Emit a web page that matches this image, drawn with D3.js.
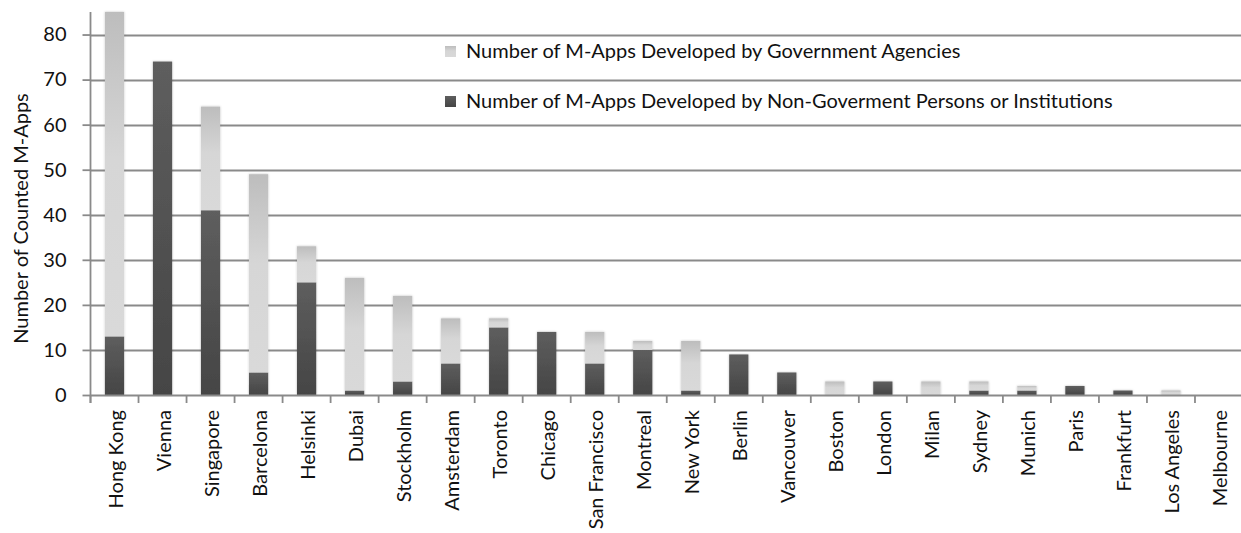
<!DOCTYPE html>
<html><head><meta charset="utf-8">
<script src="https://cdn.jsdelivr.net/npm/d3@7"></script>
<style>body{margin:0;background:#fff;} svg{display:block;} text{font-family:Lato, sans-serif;fill:#111;}</style>
</head><body><svg id="c" width="1241" height="533"></svg>
<script>
const cities = ["Hong Kong","Vienna","Singapore","Barcelona","Helsinki","Dubai","Stockholm","Amsterdam","Toronto","Chicago","San Francisco","Montreal","New York","Berlin","Vancouver","Boston","London","Milan","Sydney","Munich","Paris","Frankfurt","Los Angeles","Melbourne"];
const nonGov = [13,74,41,5,25,1,3,7,15,14,7,10,1,9,5,0,3,0,1,1,2,1,0,0];
const gov    = [72,0,23,44,8,25,19,10,2,0,7,2,11,0,0,3,0,3,2,1,0,0,1,0];
const yTicks = [0,10,20,30,40,50,60,70,80];
const seriesNames = ["Number of M-Apps Developed by Government Agencies","Number of M-Apps Developed by Non-Goverment Persons or Institutions"];

(function(){
const svg = d3.select("#c");
const mLeft = 90.5, mRight = 1243, mTop = 12, mBottom = 395;
const x = d3.scaleBand().domain(cities).range([mLeft, mRight]).paddingInner(0.6).paddingOuter(0.3);
const y = d3.scaleLinear().domain([0,85]).range([mBottom, mTop]);
const FS = "20px";

const defs = svg.append("defs");
const gl = defs.append("linearGradient").attr("id","gLight").attr("x1",0).attr("y1",0).attr("x2",0).attr("y2",1);
gl.append("stop").attr("offset","0%").attr("stop-color","#bdbdbd");
gl.append("stop").attr("offset","45%").attr("stop-color","#d6d6d6");
gl.append("stop").attr("offset","100%").attr("stop-color","#d9d9d9");
const gd = defs.append("linearGradient").attr("id","gDark").attr("x1",0).attr("y1",0).attr("x2",0).attr("y2",1);
gd.append("stop").attr("offset","0%").attr("stop-color","#5e5e5e");
gd.append("stop").attr("offset","100%").attr("stop-color","#454545");
const f = defs.append("filter").attr("id","sh").attr("x","-30%").attr("y","-10%").attr("width","160%").attr("height","120%");
f.append("feDropShadow").attr("dx",0).attr("dy",0).attr("stdDeviation",1.2).attr("flood-color","#000").attr("flood-opacity",0.25);

svg.append("g").selectAll("line").data(yTicks.filter(d=>d>0)).join("line")
  .attr("x1",mLeft).attr("x2",1241).attr("y1",d=>Math.round(y(d))+0.5).attr("y2",d=>Math.round(y(d))+0.5)
  .attr("stroke","#8a8a8a").attr("stroke-width",1.8);

const data = cities.map((c,i)=>({c, n:nonGov[i], g:gov[i]}));
const bars = svg.append("g").attr("filter","url(#sh)");
bars.selectAll("rect.d").data(data.filter(d=>d.n>0)).join("rect")
  .attr("x",d=>x(d.c)).attr("width",x.bandwidth())
  .attr("y",d=>y(d.n)).attr("height",d=>y(0)-y(d.n)).attr("fill","url(#gDark)");
bars.selectAll("rect.l").data(data.filter(d=>d.g>0)).join("rect")
  .attr("x",d=>x(d.c)).attr("width",x.bandwidth())
  .attr("y",d=>y(d.n+d.g)).attr("height",d=>y(d.n)-y(d.n+d.g)).attr("fill","url(#gLight)");

const ya = svg.append("g").attr("transform",`translate(${mLeft},0)`)
  .call(d3.axisLeft(y).tickValues(yTicks).tickSize(8).tickPadding(16));
ya.select(".domain").attr("d",`M0,${mTop}V${mBottom+8}`).attr("stroke","#8a8a8a").attr("stroke-width",1.8);
ya.selectAll(".tick line").attr("stroke","#8a8a8a").attr("stroke-width",1.8);
ya.selectAll(".tick text").style("font-family","Lato, sans-serif").style("font-size",FS).attr("fill","#111");

const step = x.step();
const bounds = d3.range(cities.length+1).map(i=>mLeft + i*step);
svg.append("line").attr("x1",mLeft).attr("x2",1241).attr("y1",mBottom+0.5).attr("y2",mBottom+0.5)
  .attr("stroke","#8a8a8a").attr("stroke-width",1.8);
svg.append("g").selectAll("line").data(bounds).join("line")
  .attr("x1",d=>d).attr("x2",d=>d).attr("y1",mBottom).attr("y2",mBottom+8)
  .attr("stroke","#8a8a8a").attr("stroke-width",1.8);

svg.append("g").selectAll("text").data(cities).join("text")
  .attr("transform",d=>`translate(${x(d)+x.bandwidth()/2+8.5},${mBottom+15}) rotate(-90)`)
  .attr("text-anchor","end").style("font-size",FS).text(d=>d);

svg.append("text").attr("transform",`translate(28,${(95+342)/2}) rotate(-90)`)
  .attr("text-anchor","middle").style("font-size",FS).text("Number of Counted M-Apps");

const lg = svg.append("g");
const legendFills = ["url(#gLight)","url(#gDark)"];
seriesNames.forEach((s,i)=>{
  const yy = 51 + i*50;
  lg.append("rect").attr("x",445).attr("y",yy-5).attr("width",11).attr("height",11).attr("fill",legendFills[i]);
  lg.append("text").attr("x",466).attr("y",yy+7).style("font-size",FS).text(s);
});
})();
</script></body></html>
